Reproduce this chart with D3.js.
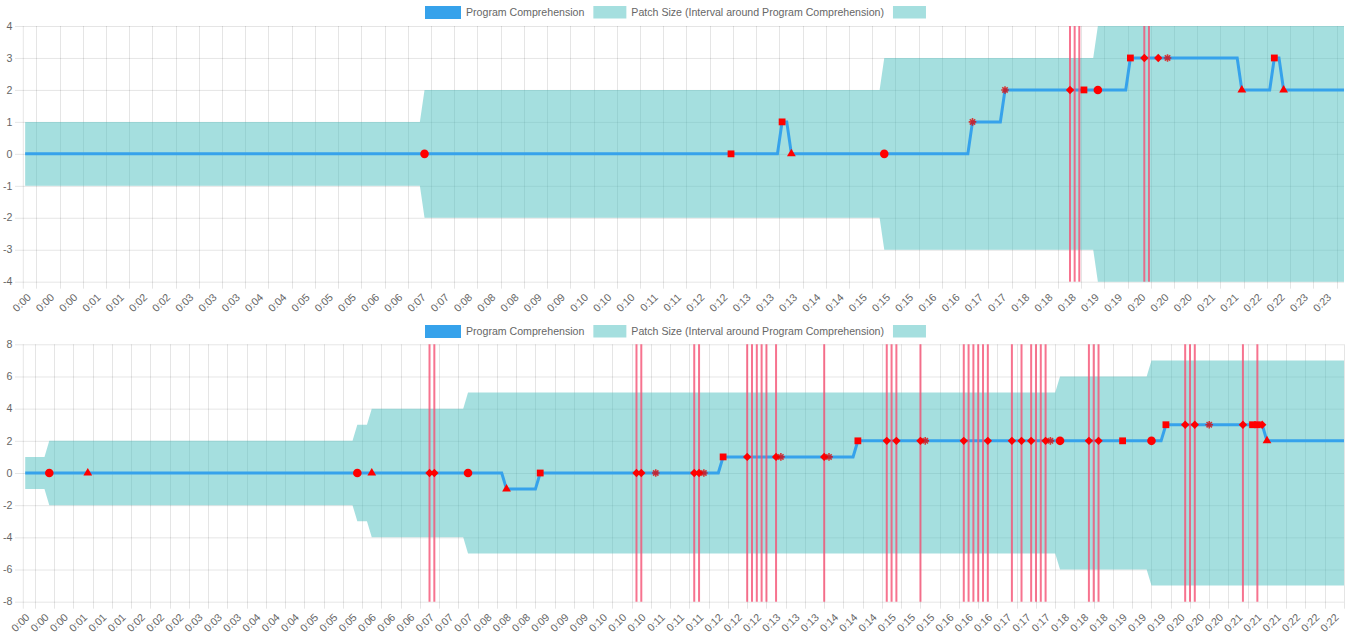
<!DOCTYPE html>
<html>
<head>
<meta charset="utf-8">
<script src="https://cdn.jsdelivr.net/npm/d3@7/dist/d3.min.js"></script>
<style>
    body { margin: 0; background: #fff; }
    text { font-family: "Liberation Sans", Arial, sans-serif; fill: #666; }
</style>
</head>
<body>
<script>
var legendLabels = ["Program Comprehension", "Patch Size (Interval around Program Comprehension)", ""];

// ---- top session (times in seconds) ----
var topTickLabels = [
    "0:00", "0:00", "0:00", "0:01", "0:01", "0:02", "0:02", "0:03", "0:03", "0:03", "0:04", "0:04",
    "0:05", "0:05", "0:05", "0:06", "0:06", "0:07", "0:07", "0:08", "0:08", "0:08", "0:09", "0:09",
    "0:10", "0:10", "0:10", "0:11", "0:11", "0:12", "0:12", "0:13", "0:13", "0:13", "0:14", "0:14",
    "0:15", "0:15", "0:15", "0:16", "0:16", "0:17", "0:17", "0:18", "0:18", "0:18", "0:19", "0:19",
    "0:20", "0:20", "0:20", "0:21", "0:21", "0:22", "0:22", "0:23", "0:23"
];
var topLineTime = [0, 810, 815, 820, 825, 1015, 1020, 1050, 1055, 1185, 1190, 1305, 1310, 1340, 1345, 1350, 1355, 1420];
var topLineValue = [0, 0, 1, 1, 0, 0, 1, 1, 2, 2, 3, 3, 2, 2, 3, 3, 2, 2];
var topBandTime = [0, 425, 430, 920, 925, 1150, 1155, 1420];
var topBandWidth = [1, 1, 2, 2, 3, 3, 4, 4];
var topMarkerTime = [430, 760, 815, 825, 925, 1020, 1055, 1125, 1140, 1155, 1190, 1205, 1220, 1230, 1310, 1345, 1355];
var topMarkerValue = [0, 0, 1, 0, 0, 1, 2, 2, 2, 2, 3, 3, 3, 3, 2, 3, 2];
var topMarkerShape = ["circle", "rect", "rect", "triangle", "circle", "star", "star", "rectRot", "rect", "circle",
    "rect", "rectRot", "rectRot", "star", "triangle", "rect", "triangle"];
var topEventTime = [1125, 1130, 1135, 1205, 1210];

// ---- bottom session ----
var bottomTickLabels = [
    "0:00", "0:00", "0:00", "0:01", "0:01", "0:01", "0:02", "0:02", "0:02", "0:03", "0:03", "0:03",
    "0:04", "0:04", "0:04", "0:05", "0:05", "0:05", "0:06", "0:06", "0:06", "0:07", "0:07", "0:07",
    "0:08", "0:08", "0:08", "0:09", "0:09", "0:09", "0:10", "0:10", "0:10", "0:11", "0:11", "0:11",
    "0:12", "0:12", "0:12", "0:13", "0:13", "0:13", "0:14", "0:14", "0:14", "0:15", "0:15", "0:15",
    "0:16", "0:16", "0:16", "0:17", "0:17", "0:17", "0:18", "0:18", "0:18", "0:19", "0:19", "0:19",
    "0:20", "0:20", "0:20", "0:21", "0:21", "0:21", "0:22", "0:22", "0:22"
];
var bottomLineTime = [0, 495, 500, 530, 535, 720, 725, 860, 865, 1180, 1185, 1285, 1290, 1370];
var bottomLineValue = [0, 0, -1, -1, 0, 0, 1, 1, 2, 2, 3, 3, 2, 2];
var bottomBandTime = [0, 20, 25, 340, 345, 355, 360, 455, 460, 1070, 1075, 1165, 1170, 1370];
var bottomBandWidth = [1, 1, 2, 2, 3, 3, 4, 4, 5, 5, 6, 6, 7, 7];
var bottomMarkerTime = [25, 65, 345, 360, 420, 425, 460, 500, 535, 635, 640, 655, 695, 700, 705,
    725, 750, 780, 785, 830, 835, 865, 895, 905, 930, 935, 975, 1000, 1025, 1035, 1045, 1060, 1065,
    1075, 1105, 1115, 1140, 1170, 1185, 1205, 1215, 1230, 1265, 1275, 1280, 1285, 1290];
var bottomMarkerValue = [0, 0, 0, 0, 0, 0, 0, -1, 0, 0, 0, 0, 0, 0, 0,
    1, 1, 1, 1, 1, 1, 2, 2, 2, 2, 2, 2, 2, 2, 2, 2, 2, 2,
    2, 2, 2, 2, 2, 3, 3, 3, 3, 3, 3, 3, 3, 2];
var bottomMarkerShape = ["circle", "triangle", "circle", "triangle", "rectRot", "rectRot", "circle", "triangle", "rect",
    "rectRot", "rectRot", "star", "rectRot", "rectRot", "star",
    "rect", "rectRot", "rectRot", "star", "rectRot", "star", "rect", "rectRot", "rectRot", "rectRot", "star",
    "rectRot", "rectRot", "rectRot", "rectRot", "rectRot", "rectRot", "star",
    "circle", "rectRot", "rectRot", "rect", "circle", "rect", "rectRot", "rectRot", "star", "rectRot", "rect", "rect",
    "rectRot", "triangle"];
var bottomEventTime = [420, 425, 635, 640, 695, 700, 750, 755, 760, 765, 770, 780, 830, 895, 900, 905, 930,
    975, 980, 985, 990, 995, 1000, 1025, 1035, 1045, 1050, 1055, 1060, 1105, 1110, 1115,
    1205, 1210, 1215, 1265, 1280];

var width = 1349, height = 637;
var blue = "#36A2EB", teal = "rgba(75, 192, 192, 0.5)", grid = "rgba(0, 0, 0, 0.1)";

var svg = d3.select("body").append("svg")
    .attr("width", width)
    .attr("height", height);

function markerPath(shape) {
    var p = d3.path();
    if (shape == "circle") {
        p.arc(0, 0, 4.3, 0, 2 * Math.PI);
    } else if (shape == "rect") {
        p.rect(-3.4, -3.4, 6.8, 6.8);
    } else if (shape == "rectRot") {
        p.moveTo(0, -4.2); p.lineTo(4.2, 0); p.lineTo(0, 4.2); p.lineTo(-4.2, 0); p.closePath();
    } else if (shape == "triangle") {
        p.moveTo(0, -5); p.lineTo(4.4, 2.5); p.lineTo(-4.4, 2.5); p.closePath();
    } else {
        var r = 3.8, q = r * Math.SQRT1_2;
        p.moveTo(0, -r); p.lineTo(0, r);
        p.moveTo(-r, 0); p.lineTo(r, 0);
        p.moveTo(-q, -q); p.lineTo(q, q);
        p.moveTo(-q, q); p.lineTo(q, -q);
    }
    return p.toString();
}

function drawLegend(g) {
    var x = 425;
    legendLabels.forEach(function (label, i) {
        if (i == 0) {
            g.append("rect").attr("x", x + 1.5).attr("y", -4.5).attr("width", 33).attr("height", 10)
                .attr("fill", blue).attr("stroke", blue).attr("stroke-width", 3);
            x += 36;
        } else {
            g.append("rect").attr("x", x).attr("y", -6).attr("width", 33).attr("height", 12.5)
                .attr("fill", teal);
            x += 33;
        }
        if (label) {
            var t = g.append("text").attr("x", x + 5).attr("y", 0).attr("dy", "0.35em")
                .style("font-size", "10.6px").text(label);
            x += 5 + t.node().getComputedTextLength() + 9;
        }
    });
}

function drawChart(cfg) {
    var g = svg.append("g");

    var x = d3.scaleLinear().domain(cfg.xDomain).range([23.3, 1344]);
    var y = d3.scaleLinear().domain(cfg.yDomain).range([cfg.bottom, cfg.top]);

    drawLegend(svg.append("g").attr("transform", "translate(0," + cfg.legendY + ")"));

    // horizontal grid + y labels
    var yTicks = d3.range(cfg.yDomain[0], cfg.yDomain[1] + 1, cfg.yStep);
    g.selectAll(".hgrid").data(yTicks).enter().append("line")
        .attr("x1", 15).attr("x2", 1344)
        .attr("y1", function (d) { return y(d) + 0.5; })
        .attr("y2", function (d) { return y(d) + 0.5; })
        .attr("stroke", grid);
    g.selectAll(".ylab").data(yTicks).enter().append("text")
        .attr("x", 12.5).attr("y", function (d) { return y(d); })
        .attr("dy", "0.35em").attr("text-anchor", "end")
        .style("font-size", "10.6px")
        .text(function (d) { return d; });

    // vertical grid + x labels
    var xTicks = cfg.tickLabels.map(function (l, i) { return cfg.tickStart + i * cfg.tickStep; });
    g.append("line").attr("x1", 23.3).attr("x2", 23.3).attr("y1", cfg.top).attr("y2", cfg.bottom + 7).attr("stroke", grid);
    g.selectAll(".vgrid").data(xTicks).enter().append("line")
        .attr("x1", function (d) { return Math.round(x(d)) + 0.5; })
        .attr("x2", function (d) { return Math.round(x(d)) + 0.5; })
        .attr("y1", cfg.top).attr("y2", cfg.bottom + 7)
        .attr("stroke", grid);
    g.selectAll(".xlab").data(xTicks).enter().append("text")
        .attr("text-anchor", "end")
        .attr("transform", function (d) { return "translate(" + (x(d) - 4.6) + "," + (cfg.bottom + 16.3) + ") rotate(-45)"; })
        .style("font-size", "10.6px")
        .text(function (d, i) { return cfg.tickLabels[i]; });

    // patch size band
    var area = d3.area()
        .x(function (d, i) { return x(cfg.bandTime[i]); })
        .y0(function (d) { return y(-d); })
        .y1(function (d) { return y(d); });
    g.append("path").datum(cfg.bandWidth).attr("d", area).attr("fill", teal);

    // comprehension line
    var line = d3.line()
        .x(function (d, i) { return x(cfg.lineTime[i]); })
        .y(function (d) { return y(d); });
    g.append("path").datum(cfg.lineValue).attr("d", line)
        .attr("fill", "none").attr("stroke", blue).attr("stroke-width", 3);

    // events
    g.selectAll(".event").data(cfg.eventTime).enter().append("line")
        .attr("x1", function (d) { return x(d); })
        .attr("x2", function (d) { return x(d); })
        .attr("y1", cfg.top).attr("y2", cfg.bottom)
        .attr("stroke", "rgba(245, 80, 115, 0.8)").attr("stroke-width", 2);

    // markers
    g.selectAll(".marker").data(cfg.markerTime).enter().append("path")
        .attr("transform", function (d, i) { return "translate(" + x(d) + "," + y(cfg.markerValue[i]) + ")"; })
        .attr("d", function (d, i) { return markerPath(cfg.markerShape[i]); })
        .attr("fill", function (d, i) { return cfg.markerShape[i] == "star" ? "none" : "red"; })
        .attr("stroke", function (d, i) { return cfg.markerShape[i] == "star" ? "rgba(230, 0, 0, 0.75)" : "none"; })
        .attr("stroke-width", 1.6);
}

drawChart({
    legendY: 12, top: 26, bottom: 281.7,
    xDomain: [-2, 1420], yDomain: [-4, 4], yStep: 1,
    tickLabels: topTickLabels, tickStart: 12, tickStep: 25,
    lineTime: topLineTime, lineValue: topLineValue,
    bandTime: topBandTime, bandWidth: topBandWidth,
    markerTime: topMarkerTime, markerValue: topMarkerValue, markerShape: topMarkerShape,
    eventTime: topEventTime
});

drawChart({
    legendY: 331, top: 344.3, bottom: 601.7,
    xDomain: [-2, 1370], yDomain: [-8, 8], yStep: 2,
    tickLabels: bottomTickLabels, tickStart: 10, tickStep: 20,
    lineTime: bottomLineTime, lineValue: bottomLineValue,
    bandTime: bottomBandTime, bandWidth: bottomBandWidth,
    markerTime: bottomMarkerTime, markerValue: bottomMarkerValue, markerShape: bottomMarkerShape,
    eventTime: bottomEventTime
});
</script>
</body>
</html>
